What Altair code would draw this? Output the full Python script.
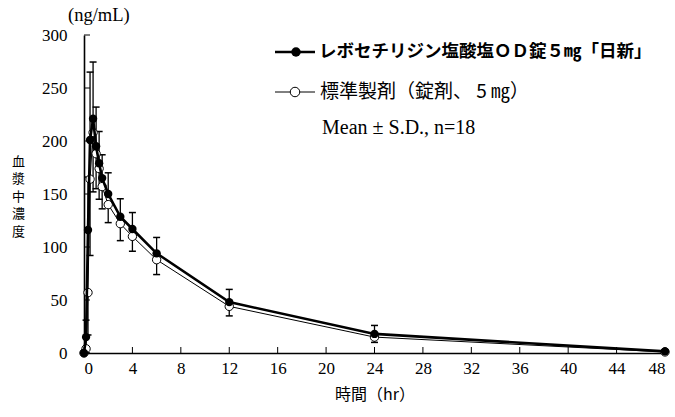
import altair as alt
import pandas as pd

# ---- data ----
times = [0, 0.17, 0.33, 0.5, 0.75, 1, 1.25, 1.5, 2, 3, 4, 6, 12, 24, 48]
nissin_mean = [0, 15, 116, 201, 221, 195, 179, 165, 150, 128.5, 117, 94, 48, 18, 1.5]
nissin_sd = [0, 16, 50, 64, 53.5, 37, 30, 22, 20, 17, 15.5, 15, 12, 8, 1]
std_mean = [0, 4, 57, 164, 208, 188, 174, 157, 140, 122, 110, 88, 44, 15, 1]
std_sd = [0, 4, 40, 72, 56, 33, 29, 21, 17, 16, 14, 14, 9, 5, 1]

x_ticks = list(range(0, 49, 4))
y_ticks = list(range(0, 301, 50))
legend_labels = ["レボセチリジン塩酸塩ＯＤ錠５㎎「日新」", "標準製剤（錠剤、 5 ㎎）", "Mean ± S.D., n=18"]
unit_label = "(ng/mL)"
x_title = "時間（hr）"
y_title = ["血", "漿", "中", "濃", "度"]

SERIF = "Liberation Serif"
JP = "Noto Sans CJK JP"

nis = pd.DataFrame({"t": times, "m": nissin_mean,
                    "hi": [m + s for m, s in zip(nissin_mean, nissin_sd)]})
std = pd.DataFrame({"t": times, "m": std_mean,
                    "lo": [m - s for m, s in zip(std_mean, std_sd)]})

xs = alt.Scale(domain=[0, 48], nice=False, zero=False)
ys = alt.Scale(domain=[0, 300], nice=False)

X = alt.X("t:Q", scale=xs, axis=alt.Axis(
    values=x_ticks, title=x_title, ticks=False, grid=False,
    domainColor="black", domainWidth=1.6, labelFont=SERIF, labelFontSize=17,
    labelColor="black", labelPadding=7, titleFont=JP, titleFontSize=16,
    titleFontWeight="normal", titleColor="black", titlePadding=10))
Y = alt.Y("m:Q", scale=ys, axis=alt.Axis(
    values=y_ticks, title=y_title, ticks=False, grid=False,
    domainColor="black", domainWidth=1.6, labelFont=SERIF, labelFontSize=17,
    labelColor="black", labelPadding=17, titleFont=JP, titleFontSize=13,
    titleFontWeight="normal", titleColor="black", titleAngle=0,
    titleAlign="center", titleBaseline="top", titleX=-66, titleY=120,
    titleLineHeight=17.5))

# error bars (standard: downward, nissin: upward)
std_err = alt.Chart(std).mark_rule(color="black", strokeWidth=1.3).encode(
    x=alt.X("t:Q", scale=xs), y=alt.Y("lo:Q", scale=ys), y2="m:Q")
std_cap = alt.Chart(std).mark_tick(orient="horizontal", color="black", size=7,
                                   thickness=1.5, opacity=1).encode(
    x=alt.X("t:Q", scale=xs), y=alt.Y("lo:Q", scale=ys))
nis_err = alt.Chart(nis).mark_rule(color="black", strokeWidth=1.3).encode(
    x=alt.X("t:Q", scale=xs), y=alt.Y("m:Q", scale=ys), y2="hi:Q")
nis_cap = alt.Chart(nis).mark_tick(orient="horizontal", color="black", size=7,
                                   thickness=1.5, opacity=1).encode(
    x=alt.X("t:Q", scale=xs), y=alt.Y("hi:Q", scale=ys))

std_line = alt.Chart(std).mark_line(color="black", strokeWidth=1).encode(x=X, y=Y)
std_pts = alt.Chart(std).mark_point(shape="circle", filled=True, fill="white",
                                    stroke="black", strokeWidth=1, size=70,
                                    opacity=1).encode(x=X, y=Y)
nis_line = alt.Chart(nis).mark_line(color="black", strokeWidth=2.6).encode(x=X, y=Y)
nis_pts = alt.Chart(nis).mark_point(shape="circle", filled=True, fill="black",
                                    size=70, opacity=1).encode(x=X, y=Y)

# inward tick marks
xt = alt.Chart(pd.DataFrame({"v": x_ticks})).mark_rule(color="black", strokeWidth=1).encode(
    x=alt.X("v:Q", scale=xs), y=alt.value(318), y2=alt.value(312))
yt = alt.Chart(pd.DataFrame({"v": y_ticks})).mark_rule(color="black", strokeWidth=1).encode(
    y=alt.Y("v:Q", scale=ys), x=alt.value(0), x2=alt.value(6))

one = pd.DataFrame({"k": [0]})
unit = alt.Chart(pd.DataFrame({"s": [unit_label]})).mark_text(
    font=SERIF, fontSize=18.5, align="left", baseline="middle", color="black").encode(
    text="s:N", x=alt.value(-16), y=alt.value(-20))

# legend
leg1_line = alt.Chart(one).mark_rule(color="black", strokeWidth=2.6).encode(
    x=alt.value(191), x2=alt.value(231), y=alt.value(17))
leg1_pt = alt.Chart(one).mark_point(shape="circle", filled=True, fill="black",
                                    size=90, opacity=1).encode(x=alt.value(212), y=alt.value(17))
leg1_txt = alt.Chart(pd.DataFrame({"s": [legend_labels[0]]})).mark_text(
    font=JP, fontSize=17.5, fontWeight="bold", align="left", baseline="middle",
    color="black").encode(text="s:N", x=alt.value(235), y=alt.value(17))
leg2_line = alt.Chart(one).mark_rule(color="black", strokeWidth=1).encode(
    x=alt.value(191), x2=alt.value(231), y=alt.value(57))
leg2_pt = alt.Chart(one).mark_point(shape="circle", filled=True, fill="white",
                                    stroke="black", strokeWidth=1, size=90,
                                    opacity=1).encode(x=alt.value(211), y=alt.value(57))
leg2_txt = alt.Chart(pd.DataFrame({"s": [legend_labels[1]]})).mark_text(
    font=JP, fontSize=19, align="left", baseline="middle",
    color="black").encode(text="s:N", x=alt.value(236), y=alt.value(57))
leg3_txt = alt.Chart(pd.DataFrame({"s": [legend_labels[2]]})).mark_text(
    font=SERIF, fontSize=20, align="left", baseline="middle",
    color="black").encode(text="s:N", x=alt.value(238), y=alt.value(93))

chart = alt.layer(
    std_err, std_cap, nis_err, nis_cap, std_line, std_pts, nis_line, nis_pts,
    xt, yt, unit, leg1_line, leg1_pt, leg1_txt, leg2_line, leg2_pt, leg2_txt, leg3_txt
).properties(
    width=581, height=318,
    autosize=alt.AutoSizeParams(type="none"),
    padding={"left": 84, "top": 35, "right": 10, "bottom": 64},
    background="white",
).configure_view(stroke=None)

chart.save("out.html", embed_options={"renderer": "svg", "actions": False})
